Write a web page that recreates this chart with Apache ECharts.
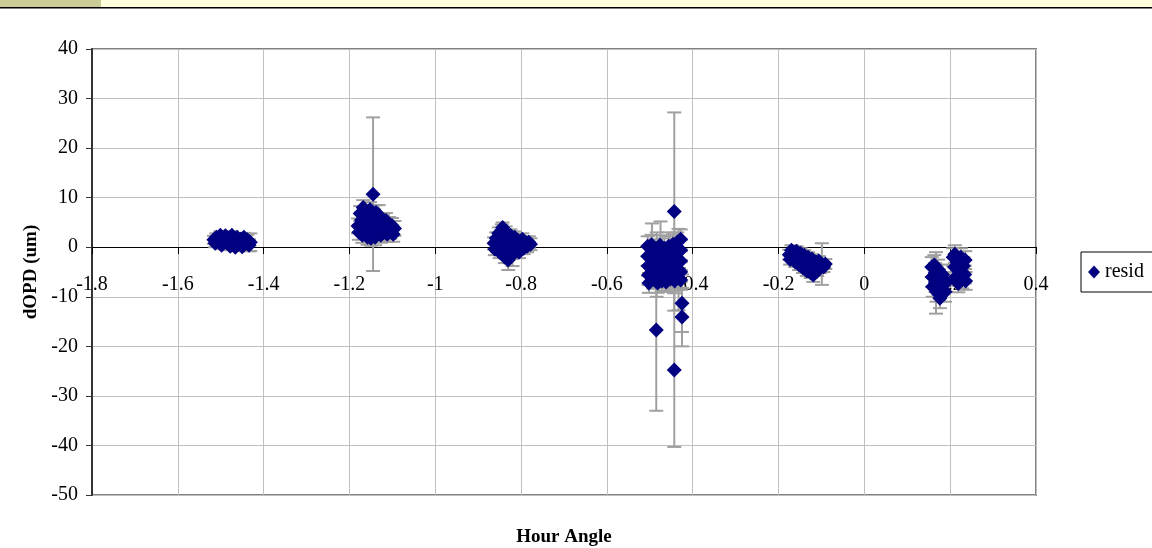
<!DOCTYPE html>
<html>
<head>
<meta charset="utf-8">
<title>dOPD vs Hour Angle</title>
<script src="https://cdn.jsdelivr.net/npm/echarts@6/dist/echarts.min.js"></script>
<style>
  html, body { margin: 0; padding: 0; background: #fff; }
  #chart { width: 1152px; height: 548px; }
</style>
</head>
<body>
<div id="chart"></div>
<script>
// [hour angle, dOPD (um), error bar half-height], one array per cluster
const cluster1 = [
  [-1.516, 1.5, 0.8], [-1.513, 0.8, 0.8], [-1.510, 2.0, 0.8], [-1.505, 1.2, 0.8],
  [-1.501, 2.4, 0.8], [-1.498, 0.4, 0.8], [-1.494, 1.6, 0.8], [-1.489, 2.3, 0.8],
  [-1.486, 0.9, 0.8], [-1.481, 1.8, 0.8], [-1.478, 0.2, 0.8], [-1.474, 2.4, 0.8],
  [-1.470, 1.1, 0.8], [-1.466, 0.0, 0.8], [-1.462, 2.0, 0.8], [-1.458, 0.8, 0.8],
  [-1.454, 1.6, 0.8], [-1.450, 0.1, 0.8], [-1.446, 2.0, 0.9], [-1.442, 0.9, 1.0],
  [-1.438, 1.5, 1.0], [-1.434, 0.4, 1.2], [-1.431, 1.0, 1.8]
];
const cluster2 = [
  [-1.180, 4.3, 1.5], [-1.178, 3.0, 1.5], [-1.175, 6.8, 1.5], [-1.172, 5.5, 1.5],
  [-1.170, 2.4, 1.5], [-1.168, 8.0, 1.5], [-1.165, 4.0, 1.5], [-1.162, 6.5, 1.5],
  [-1.160, 3.2, 1.5], [-1.158, 2.0, 1.5], [-1.155, 5.0, 1.5], [-1.152, 7.6, 1.5],
  [-1.150, 1.8, 1.5], [-1.148, 3.6, 1.5], [-1.145, 10.7, 15.5], [-1.143, 5.8, 1.9],
  [-1.140, 2.0, 1.6], [-1.138, 7.0, 1.5], [-1.135, 4.2, 1.5], [-1.132, 6.5, 2.0],
  [-1.130, 4.8, 1.5], [-1.127, 2.4, 1.5], [-1.122, 5.0, 1.5], [-1.120, 3.0, 1.5],
  [-1.118, 4.0, 1.5], [-1.115, 5.4, 1.5], [-1.112, 2.6, 1.5], [-1.108, 4.6, 1.5],
  [-1.105, 3.2, 1.5], [-1.101, 4.4, 1.5], [-1.098, 2.6, 1.5], [-1.095, 3.8, 1.5]
];
const cluster3 = [
  [-0.863, 0.8, 1.2], [-0.861, -0.4, 1.2], [-0.858, 1.8, 1.2], [-0.855, 0.2, 1.2],
  [-0.852, 2.8, 1.2], [-0.850, -1.0, 1.2], [-0.847, 0.8, 1.2], [-0.845, 3.4, 1.2],
  [-0.843, 4.0, 1.0], [-0.840, 1.7, 1.2], [-0.838, -2.0, 1.2], [-0.836, 3.0, 1.2],
  [-0.833, -0.5, 1.2], [-0.830, -2.6, 2.0], [-0.828, 1.0, 1.2], [-0.825, 2.4, 1.2],
  [-0.823, -1.2, 1.2], [-0.820, -1.5, 2.3], [-0.818, 0.6, 1.2], [-0.815, 2.0, 1.2],
  [-0.812, -0.4, 1.2], [-0.808, 1.4, 1.2], [-0.805, -1.0, 1.2], [-0.801, 0.8, 1.2],
  [-0.797, 1.6, 1.2], [-0.794, -0.2, 1.2], [-0.790, 1.0, 1.2], [-0.786, 0.2, 1.2],
  [-0.782, 1.0, 1.2], [-0.778, 0.6, 1.2]
];
const cluster4 = [
  [-0.505, 0.2, 2.0], [-0.505, -1.8, 2.0], [-0.504, -3.8, 2.0], [-0.503, -5.6, 2.0], [-0.502, -7.2, 2.0],
  [-0.496, 0.5, 2.0], [-0.495, -1.0, 5.8], [-0.494, -2.8, 2.0], [-0.493, -4.6, 2.0], [-0.492, -6.4, 2.0],
  [-0.486, -0.4, 2.0], [-0.485, -2.2, 2.0], [-0.484, -3.5, 6.5], [-0.483, -5.4, 2.0], [-0.482, -7.2, 2.0],
  [-0.476, 0.4, 2.0], [-0.475, -1.5, 6.7], [-0.474, -3.2, 2.0], [-0.473, -5.0, 2.0], [-0.472, -6.8, 2.0],
  [-0.466, -0.2, 2.0], [-0.465, -2.4, 2.0], [-0.464, -4.2, 2.0], [-0.463, -6.0, 2.0], [-0.462, -7.0, 2.0],
  [-0.456, 0.2, 2.0], [-0.455, -3.0, 6.0], [-0.454, -1.6, 2.0], [-0.453, -4.8, 2.0], [-0.452, -6.4, 2.0],
  [-0.446, 0.6, 2.0], [-0.445, -1.2, 2.0], [-0.444, -3.4, 2.0], [-0.443, -5.4, 2.0], [-0.442, -6.8, 2.0],
  [-0.436, 1.0, 2.0], [-0.435, -1.0, 2.0], [-0.434, -3.0, 2.0], [-0.433, -4.5, 8.2], [-0.432, -6.2, 2.0],
  [-0.428, 1.6, 2.0], [-0.428, -0.6, 2.0], [-0.428, -2.8, 2.0], [-0.428, -5.0, 2.0], [-0.428, -6.6, 2.0],
  [-0.485, -16.7, 16.3], [-0.443, 7.2, 20.0], [-0.443, -24.8, 15.5],
  [-0.425, -11.3, 5.8], [-0.425, -14.1, 5.9]
];
const cluster5 = [
  [-0.175, -1.5, 1.0], [-0.173, -2.5, 1.0], [-0.170, -0.6, 1.0], [-0.167, -2.0, 1.0],
  [-0.164, -1.0, 1.0], [-0.161, -3.0, 1.0], [-0.158, -0.8, 1.0], [-0.155, -2.2, 1.0],
  [-0.152, -3.6, 1.0], [-0.149, -1.2, 1.0], [-0.146, -2.8, 1.0], [-0.143, -4.2, 1.0],
  [-0.140, -1.6, 1.0], [-0.137, -3.2, 1.0], [-0.134, -4.8, 1.0], [-0.131, -2.0, 1.0],
  [-0.128, -3.6, 1.0], [-0.125, -5.2, 1.0], [-0.122, -2.4, 1.0], [-0.119, -5.6, 1.4],
  [-0.116, -4.0, 1.0], [-0.113, -3.0, 1.0], [-0.110, -4.8, 1.0], [-0.106, -2.8, 1.0],
  [-0.103, -4.2, 1.0], [-0.099, -3.4, 4.2], [-0.095, -4.0, 1.0], [-0.091, -3.4, 1.0]
];
const cluster6 = [
  [0.157, -4.0, 2.0], [0.158, -6.0, 2.0], [0.159, -8.0, 2.0], [0.163, -3.6, 2.0],
  [0.165, -5.2, 2.0], [0.166, -7.0, 2.0], [0.167, -7.2, 6.2], [0.168, -9.0, 2.0],
  [0.172, -4.5, 2.0], [0.174, -6.5, 2.0], [0.176, -10.3, 2.0], [0.178, -8.0, 2.0],
  [0.182, -5.5, 2.0], [0.184, -7.5, 2.0], [0.188, -9.0, 2.0], [0.192, -7.0, 2.0],
  [0.207, -2.0, 1.8], [0.210, -4.0, 1.8], [0.211, -1.4, 1.8], [0.213, -6.0, 1.8],
  [0.216, -3.0, 1.8], [0.219, -7.3, 1.8], [0.222, -5.0, 1.8], [0.225, -2.0, 1.8],
  [0.228, -6.5, 1.8], [0.231, -3.8, 1.8], [0.234, -5.5, 1.8], [0.235, -2.6, 1.8],
  [0.236, -6.8, 1.8]
];

const resid = [].concat(cluster1, cluster2, cluster3, cluster4, cluster5, cluster6);

const serif = '"Liberation Serif", "DejaVu Serif", serif';

const chart = echarts.init(document.getElementById('chart'), null, { renderer: 'canvas' });

// vertical error bar with caps, drawn behind the markers
const renderErrorBar = (params, api) => {
  const x = api.value(0);
  const y = api.value(1);
  const e = api.value(2);
  const top = api.coord([x, y + e]);
  const bottom = api.coord([x, y - e]);
  const half = 7;
  const style = { stroke: '#a0a0a0', lineWidth: 2 };
  return {
    type: 'group',
    children: [
      { type: 'line', shape: { x1: top[0], y1: top[1], x2: bottom[0], y2: bottom[1] }, style },
      { type: 'line', shape: { x1: top[0] - half, y1: top[1], x2: top[0] + half, y2: top[1] }, style },
      { type: 'line', shape: { x1: bottom[0] - half, y1: bottom[1], x2: bottom[0] + half, y2: bottom[1] }, style }
    ]
  };
};

chart.setOption({
  animation: false,
  backgroundColor: '#ffffff',
  textStyle: { fontFamily: serif },
  grid: {
    left: 92,
    right: 116,
    top: 49,
    bottom: 53,
    show: true,
    borderColor: '#808080',
    borderWidth: 2
  },
  legend: {
    data: ['resid'],
    left: 1081,
    top: 252,
    orient: 'vertical',
    padding: [10, 30, 10, 7],
    borderColor: '#000',
    borderWidth: 1,
    itemWidth: 12,
    itemHeight: 13,
    textStyle: { fontFamily: serif, fontSize: 20, color: '#000' }
  },
  xAxis: {
    type: 'value',
    min: -1.8,
    max: 0.4,
    interval: 0.2,
    position: 'bottom',
    // the axis crosses at dOPD = 0, which sits 248px above the bottom of the grid
    offset: -248,
    axisLine: { onZero: false, lineStyle: { color: '#000', width: 1 } },
    axisTick: { show: true, length: 7, lineStyle: { color: '#000' } },
    axisLabel: {
      margin: 28,
      fontFamily: serif,
      fontSize: 20,
      color: '#000',
      formatter: (v) => String(Number(v.toFixed(1)))
    },
    splitLine: { show: true, lineStyle: { color: '#c0c0c0', width: 1 } }
  },
  yAxis: {
    type: 'value',
    min: -50,
    max: 40,
    interval: 10,
    name: 'dOPD (um)',
    nameLocation: 'middle',
    nameRotate: 90,
    nameGap: 46,
    nameTextStyle: { fontFamily: serif, fontSize: 19, fontWeight: 'bold', color: '#000' },
    axisLine: { show: true, onZero: false, lineStyle: { color: '#333', width: 2 } },
    axisTick: { show: true, length: 6, lineStyle: { color: '#333' } },
    axisLabel: { margin: 14, fontFamily: serif, fontSize: 20, color: '#000' },
    splitLine: { show: true, lineStyle: { color: '#c0c0c0', width: 1 } }
  },
  graphic: [
    { type: 'rect', left: 0, top: 0, shape: { width: 1152, height: 7 }, style: { fill: '#ffffdc' }, silent: true },
    { type: 'rect', left: 0, top: 0, shape: { width: 101, height: 7 }, style: { fill: '#cccc99' }, silent: true },
    { type: 'rect', left: 0, top: 7, shape: { width: 1152, height: 1.5 }, style: { fill: '#000' }, silent: true },
    {
      type: 'text',
      x: 564,
      y: 537,
      style: {
        text: 'Hour Angle',
        fontFamily: serif,
        fontSize: 19,
        fontWeight: 'bold',
        fill: '#000',
        align: 'center',
        verticalAlign: 'middle'
      },
      silent: true
    }
  ],
  series: [
    {
      name: 'errorbars',
      type: 'custom',
      renderItem: renderErrorBar,
      data: resid,
      encode: { x: 0, y: 1 },
      z: 1,
      silent: true
    },
    {
      name: 'resid',
      type: 'scatter',
      symbol: 'diamond',
      symbolSize: 15,
      data: resid.map((d) => [d[0], d[1]]),
      itemStyle: { color: '#000080', opacity: 1 },
      z: 2
    }
  ]
});
</script>
</body>
</html>
